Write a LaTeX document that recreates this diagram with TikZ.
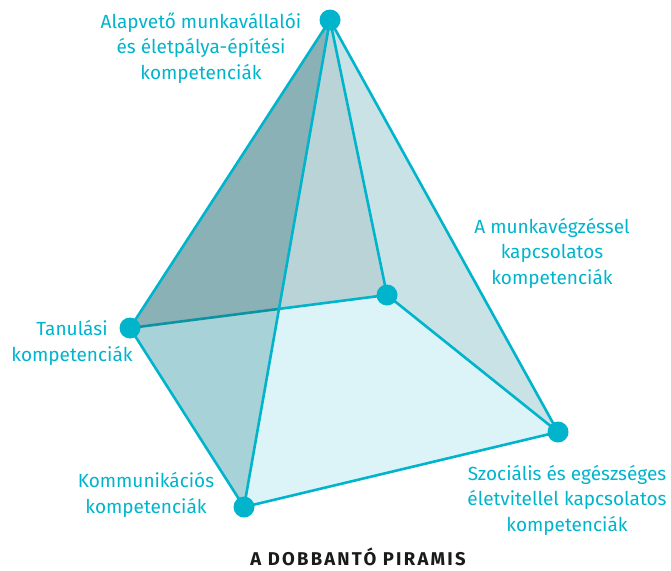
\documentclass[tikz,border=0pt]{standalone}
\usepackage{fontspec}
\setmainfont{Fira Sans}
\definecolor{pyrcyan}{HTML}{00B4CC}
\definecolor{pyrdark}{HTML}{0B93A4}
\definecolor{basefill}{HTML}{DCF4F8}
\definecolor{backright}{HTML}{C8E2E6}
\definecolor{backleft}{HTML}{BAD3D7}
\definecolor{overlap}{HTML}{8AB1B6}
\definecolor{frontleft}{HTML}{A7D2D7}
\definecolor{titleink}{HTML}{1A1A1A}
\tikzset{
  edge/.style={pyrcyan, line width=2.6pt, line join=round},
  dot/.style={circle, fill=pyrcyan, inner sep=0pt, minimum size=21pt},
  caption/.style={pyrcyan, align=center, font=\fontsize{19}{25.5}\selectfont, inner sep=0pt}
}
\begin{document}
\begin{tikzpicture}[x=1pt,y=-1pt]
    \useasboundingbox (0,0) rectangle (671,570);

    % Corners
    \coordinate (A) at (330,20);
    \coordinate (B) at (387,295);
    \coordinate (L) at (130,328);
    \coordinate (F) at (244,507);
    \coordinate (R) at (558,432);
    \coordinate (X) at (intersection of L--B and A--F);

    % Faces
    \fill[basefill] (L) -- (B) -- (R) -- (F) -- cycle;
    \fill[backright] (A) -- (B) -- (R) -- cycle;
    \fill[backleft] (A) -- (X) -- (B) -- cycle;
    \fill[overlap] (A) -- (L) -- (X) -- cycle;
    \fill[frontleft] (L) -- (X) -- (F) -- cycle;

    % Edges
    \draw[edge] (X) -- (B);
    \draw[edge, pyrdark] (L) -- (X);
    \draw[edge] (A) -- (B);
    \draw[edge] (B) -- (R);
    \draw[edge] (A) -- (L) -- (F) -- (R) -- cycle;
    \draw[edge] (A) -- (F);

    % Dots
    \node[dot] (apex) at (A) {};
    \node[dot] (back) at (B) {};
    \node[dot] (left) at (L) {};
    \node[dot] (front) at (F) {};
    \node[dot] (right) at (R) {};

    % Labels
    \node[caption] (apexlabel) at (201,48) {Alapvető munkavállalói\\és életpálya-építési\\kompetenciák};
    \node[caption] (backlabel) at (552,253) {A munkavégzéssel\\kapcsolatos\\kompetenciák};
    \node[caption] (leftlabel) at (72,343) {Tanulási\\kompetenciák};
    \node[caption] (frontlabel) at (146,495) {Kommunikációs\\kompetenciák};
    \node[caption] (rightlabel) at (567,500) {Szociális és egészséges\\életvitellel kapcsolatos\\kompetenciák};
    \node[titleink, font=\fontsize{18.5}{20}\selectfont\bfseries\addfontfeatures{LetterSpace=12}, inner sep=0pt, anchor=base] (title) at (358,565) {A DOBBANTÓ PIRAMIS};
  \end{tikzpicture}
\end{document}
